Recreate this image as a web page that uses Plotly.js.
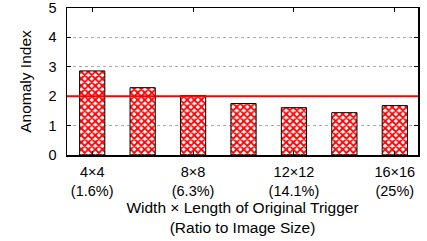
<!DOCTYPE html>
<html><head><meta charset="utf-8">
<script src="https://cdn.plot.ly/plotly-3.0.1.min.js"></script>
<style>html,body{margin:0;padding:0;background:#fff}#chart{width:427px;height:241px}</style>
</head><body><div id="chart"></div>
<script>
const categories = ["4×4","6×6","8×8","10×10","12×12","14×14","16×16"];
const anomalyIndex = [2.86, 2.29, 2.02, 1.75, 1.61, 1.44, 1.68];
const tickPositions = [0, 2, 4, 6];
const tickLabels = ["4×4<br>(1.6%)", "8×8<br>(6.3%)", "12×12<br>(14.1%)", "16×16<br>(25%)"];
const threshold = 2;

const xIdx = categories.map((c, i) => i);
const font = {family: "Liberation Sans, Arial, sans-serif", size: 14, color: "#000"};

const data = [{
  type: "bar",
  x: xIdx,
  y: anomalyIndex,
  width: 0.5,
  marker: {
    color: "#ffffff",
    line: {color: "#000", width: 1},
    pattern: {shape: "x", fgcolor: "#ff0000", bgcolor: "#ffffff", size: 5, solidity: 0.6}
  },
  hoverinfo: "skip"
}];

const layout = {
  width: 427, height: 241,
  margin: {l: 67, r: 9, t: 8, b: 86},
  paper_bgcolor: "#fff", plot_bgcolor: "#fff",
  font: font,
  showlegend: false,
  xaxis: {
    range: [-0.5, 6.46],
    tickmode: "array", tickvals: tickPositions, ticktext: tickLabels,
    ticks: "inside", ticklen: 4, tickcolor: "#000",
    showline: true, linecolor: "#000", linewidth: 1.5, mirror: "ticks",
    showgrid: false, zeroline: false,
    tickfont: {size: 14.5},
    ticklabelstandoff: 3,
    title: {text: "Width × Length of Original Trigger<br>(Ratio to Image Size)", font: {size: 15.5}, standoff: 2}
  },
  yaxis: {
    range: [0, 5],
    tickvals: [0,1,2,3,4,5],
    ticks: "inside", ticklen: 4, tickcolor: "#000",
    showline: true, linecolor: "#000", linewidth: 1.5, mirror: "ticks",
    showgrid: true, gridcolor: "#aaa", griddash: "dot", gridwidth: 1,
    zeroline: false,
    tickfont: {size: 14.5},
    ticklabelstandoff: 6,
    ticklabeloverflow: "allow",
    title: {text: "Anomaly Index", font: {size: 15.5}, standoff: 13}
  },
  shapes: [{
    type: "line", xref: "paper", yref: "y", x0: 0, x1: 1, y0: threshold, y1: threshold,
    line: {color: "#ff0000", width: 2}, layer: "above"
  }]
};

Plotly.newPlot("chart", data, layout, {displayModeBar: false, staticPlot: true});
</script></body></html>
